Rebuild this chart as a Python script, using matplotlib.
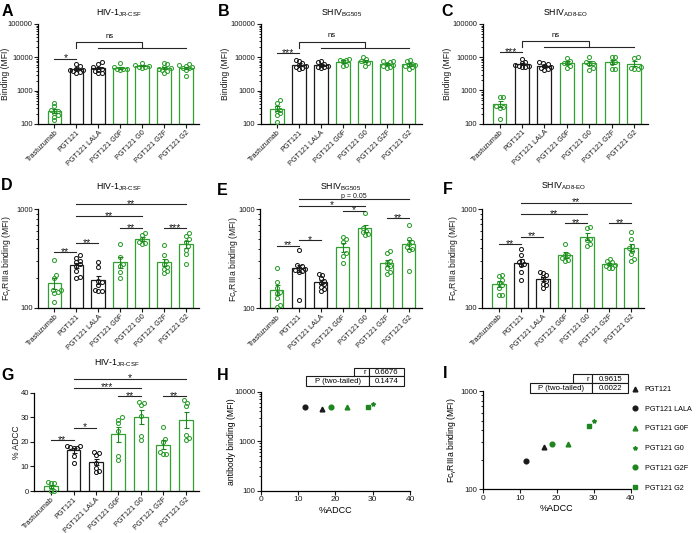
import numpy as np
import matplotlib
matplotlib.use('Agg')
import matplotlib.pyplot as plt
from matplotlib.patches import Rectangle
from matplotlib.ticker import LogLocator, NullFormatter

plt.rcParams['font.family'] = ['Liberation Sans', 'DejaVu Sans']
plt.rcParams['mathtext.fontset'] = 'custom'
plt.rcParams['mathtext.rm'] = 'Liberation Sans'
plt.rcParams['mathtext.it'] = 'Liberation Sans'
plt.rcParams['mathtext.default'] = 'regular'

W, H = 696, 533
GREEN = '#31a031'
GREEN_DARK = '#1e861e'
BLACK = '#1a1a1a'
SIG = '#262626'

groups = ['Trastuzumab', 'PGT121', 'PGT121 LALA', 'PGT121 G0F',
          'PGT121 G0', 'PGT121 G2F', 'PGT121 G2']
green_group = [True, False, False, True, True, True, True]

# ---- binding (MFI), HIV-1 JR-CSF / SHIV BG505 / SHIV AD8-EO
bind_jrcsf = [
    [440, 350, 265, 250, 220, 185, 165, 130],
    [6500, 5400, 4600, 4300, 4100, 3900, 3700, 3500],
    [7200, 6400, 5000, 4600, 4300, 4000, 3500, 3400],
    [6600, 5000, 4600, 4500, 4400, 4300],
    [6700, 6000, 5500, 5300, 5200, 4900],
    [6800, 6200, 5300, 4800, 4500, 4200, 4000, 3400],
    [6200, 5900, 5500, 5100, 4900, 4700, 4100, 2800],
]
bind_bg505 = [
    [527, 438, 332, 264, 246, 209, 186, 117],
    [8200, 7600, 6800, 6000, 5500, 5200, 4900, 4400],
    [7800, 7200, 6500, 6000, 5600, 5300, 5000, 4700],
    [8800, 8500, 8300, 7800, 6000, 5400],
    [10000, 9000, 8000, 7200, 6600, 5600],
    [8000, 7600, 7200, 6500, 6000, 5600, 5300, 4800],
    [8200, 7500, 6500, 6000, 5700, 5400, 5000, 4600],
]
bind_ad8 = [
    [610, 610, 330, 320, 300, 135],
    [9000, 7200, 6500, 6000, 5600, 5400, 5200, 5000],
    [7200, 6900, 6300, 5500, 5100, 4700, 4400, 4200],
    [9300, 7700, 6900, 6800, 5500, 4700],
    [10200, 7400, 6900, 6200, 4700, 4200],
    [10000, 9800, 7000, 6500, 4500, 4400],
    [10000, 9500, 5000, 4700, 4500, 4400],
]

# ---- FcgRIIIa binding (MFI)
fc_jrcsf = [
    [305, 215, 200, 150, 150, 145, 140, 115],
    [340, 320, 300, 290, 275, 265, 235, 205, 200],
    [290, 261, 187, 181, 170, 151, 148, 148],
    [440, 330, 275, 265, 230, 200],
    [570, 548, 500, 470, 455, 445],
    [430, 345, 300, 280, 260, 245, 235, 225],
    [570, 540, 500, 470, 420, 390, 350, 280],
]
fc_bg505 = [
    [257, 183, 159, 147, 142, 126, 108, 104],
    [390, 275, 270, 255, 250, 245, 240, 235, 120],
    [220, 215, 200, 190, 180, 175, 165, 155, 148],
    [520, 500, 470, 360, 340, 290],
    [910, 640, 610, 590, 560, 550],
    [375, 360, 300, 285, 265, 255, 235, 220],
    [700, 500, 470, 450, 420, 400, 390, 240],
]
fc_ad8 = [
    [215, 210, 190, 180, 170, 160, 135, 133],
    [395, 340, 300, 290, 280, 270, 230, 190],
    [230, 225, 215, 205, 185, 175, 170, 160],
    [440, 345, 340, 320, 305, 300],
    [660, 640, 500, 480, 445, 420],
    [310, 300, 290, 280, 270, 265, 255, 250],
    [580, 495, 420, 400, 375, 350, 315, 300],
]

# ---- % ADCC, HIV-1 JR-CSF
adcc_jrcsf = [
    [3.5, 3.4, 3.3, 1.5, 0.0, 0.0],
    [18.5, 18.3, 18.0, 17.6, 17.4, 14.2, 11.5],
    [15.8, 15.6, 14.5, 11.2, 9.5, 8.2, 7.8],
    [30.0, 29.0, 27.5, 24.5, 14.2, 12.8],
    [36.3, 36.0, 35.0, 30.5, 22.5, 20.9],
    [26.0, 21.0, 19.8, 16.0, 15.0, 15.0],
    [37.0, 36.0, 34.7, 22.8, 21.7, 20.6],
]

# ---- significance (group i, group j, level, label)
sig_a = [(0, 1, 9000, '*')]
sig_b = [(0, 1, 13200, '***')]
sig_c = [(0, 1, 14100, '***')]
sig_d = [(0, 1, 365, '**'), (1, 2, 451, '**'), (3, 4, 641, '**'),
         (5, 6, 641, '***'), (1, 4, 855, '**'), (1, 6, 1133, '**')]
sig_e = [(0, 1, 427, '**'), (1, 2, 489, '*'), (3, 4, 970, '*'),
         (5, 6, 811, '**'), (1, 4, 1089, '*'), (1, 6, 1270, 'p = 0.05')]
sig_f = [(0, 1, 439, '**'), (1, 2, 525, '**'), (3, 4, 716, '**'),
         (5, 6, 716, '**'), (1, 4, 889, '**'), (1, 6, 1159, '**')]
sig_g = [(0, 1, 20.7, '**'), (1, 2, 25.8, '*'), (3, 4, 38.6, '**'),
         (5, 6, 38.6, '**'), (1, 4, 42.0, '***'), (1, 6, 45.6, '*')]

# ---- correlation panels
corr_names = ['PGT121', 'PGT121 LALA', 'PGT121 G0F', 'PGT121 G0', 'PGT121 G2F', 'PGT121 G2']
corr_idx = [1, 2, 3, 4, 5, 6]
corr_markers = ['^', 'o', '^', '*', 'o', 's']
corr_colors = [BLACK, BLACK, GREEN_DARK, GREEN_DARK, GREEN_DARK, GREEN_DARK]
stats_h = ('0.6676', '0.1474')
stats_i = ('0.9615', '0.0022')

fig = plt.figure(figsize=(W / 100, H / 100), dpi=100)


def add_axes_px(box):
    l, t, r, b = box
    return fig.add_axes([l / W, 1 - b / H, (r - l) / W, (b - t) / H])


def fig_text(x, y, s, **kw):
    fig.text(x / W, 1 - y / H, s, **kw)


def style_axes(ax, labelsize=5.5):
    for s in ('top', 'right'):
        ax.spines[s].set_visible(False)
    for s in ('left', 'bottom'):
        ax.spines[s].set_linewidth(0.9)
    ax.tick_params(which='major', direction='out', length=2.6, width=0.8,
                   labelsize=labelsize, pad=1.2, colors=BLACK)
    ax.tick_params(which='minor', direction='out', length=1.5, width=0.6)


def log_ticks(ax, ticks):
    ax.set_yticks(ticks)
    ax.set_yticklabels([str(t) for t in ticks])
    ax.yaxis.set_minor_locator(LogLocator(base=10, subs=np.arange(2, 10)))
    ax.yaxis.set_minor_formatter(NullFormatter())


def place_ylabel(ax, box, center_px):
    # label coords give the right edge of the rotated label, so shift by half its height
    ax.yaxis.set_label_coords((center_px + 4.5 - box[0]) / (box[2] - box[0]), 0.5)


def swarm_offsets(ax, xc, vals, diam=3.3):
    # simple beeswarm in pixel space so the open circles sit side by side
    pts = ax.transData.transform(np.column_stack([np.full(len(vals), float(xc)), vals]))
    ys = pts[:, 1]
    ppu = ax.transData.transform((1, 1))[0] - ax.transData.transform((0, 1))[0]
    step = diam * 0.5
    placed, offs = [], np.zeros(len(vals))
    for i in np.argsort(ys):
        k = 0
        while True:
            cands = [0.0] if k == 0 else [k * step, -k * step]
            hit = None
            for c in cands:
                if all((c - ox) ** 2 + (ys[i] - oy) ** 2 >= diam ** 2 for ox, oy in placed):
                    hit = c
                    break
            if hit is not None:
                break
            k += 1
        placed.append((hit, ys[i]))
        offs[i] = hit / ppu
    return offs


def bar_panel(box, data, ylim, log, yticks, ylabel, ylabel_x, sigs, title, title_y):
    ax = add_axes_px(box)
    ax.set_xlim(-0.75, 6.6)
    if log:
        ax.set_yscale('log')
    ax.set_ylim(*ylim)
    style_axes(ax)
    for i, vals in enumerate(data):
        col = GREEN if green_group[i] else BLACK
        v = np.array(vals, dtype=float)
        m = v.mean()
        se = v.std(ddof=1) / np.sqrt(len(v))
        ax.bar(i, m - ylim[0], bottom=ylim[0], width=0.62, facecolor='white',
               edgecolor=col, linewidth=0.9, zorder=2)
        offs = swarm_offsets(ax, i, v)
        ax.plot(i + offs, v, 'o', ms=2.9, mfc='none', mec=col, mew=0.75,
                zorder=3, clip_on=False)
        ax.errorbar(i, m, yerr=se, fmt='none', ecolor=GREEN_DARK if green_group[i] else BLACK,
                    elinewidth=0.8, capsize=1.8, capthick=0.8, zorder=4)
    ax.set_xticks(range(len(groups)))
    ax.set_xticklabels(groups, rotation=45, ha='right', rotation_mode='anchor', fontsize=5.2)
    if log:
        log_ticks(ax, yticks)
    else:
        ax.set_yticks(yticks)
    ax.set_ylabel(ylabel, fontsize=6.2, color=BLACK)
    place_ylabel(ax, box, ylabel_x)
    for i, j, y, txt in sigs:
        ax.plot([i, j], [y, y], color=SIG, lw=0.8, clip_on=False, zorder=5)
        stars = set(txt) == {'*'}
        ax.annotate(txt, xy=((i + j) / 2, y), xytext=(0, -1.9 if stars else 0.8),
                    textcoords='offset points', ha='center', va='baseline',
                    fontsize=7.5 if stars else 5, color=BLACK, annotation_clip=False)
    fig_text((box[0] + box[2]) / 2, title_y, title, ha='center', va='center', fontsize=6.3)
    return ax


def ns_bracket(ax, top, low):
    ax.plot([1, 1, 4, 4], [low, top, top, low], color=SIG, lw=0.8, clip_on=False)
    ax.plot([2, 6], [low, low], color=SIG, lw=0.8, clip_on=False)
    ax.annotate('ns', xy=(2.5, top), xytext=(0, 3.2), textcoords='offset points',
                ha='center', va='baseline', fontsize=5.5, annotation_clip=False)


def corr_panel(box, ylim, yticks, ylabel, ylabel_x, ymeans, stats, table_px):
    ax = add_axes_px(box)
    ax.set_yscale('log')
    ax.set_xlim(0, 40)
    ax.set_ylim(*ylim)
    style_axes(ax, labelsize=5.6)
    ax.tick_params(axis='x', labelsize=6)
    ax.set_xticks([0, 10, 20, 30, 40])
    log_ticks(ax, yticks)
    xs = [np.mean(adcc_jrcsf[k]) for k in corr_idx]
    ys = [np.mean(ymeans[k]) for k in corr_idx]
    handles = []
    for x, y, mk, c, name in zip(xs, ys, corr_markers, corr_colors, corr_names):
        ms = 3.0 if mk == '*' else 3.4
        h, = ax.plot(x, y, mk, ms=ms, color=c, mec=c, label=name, clip_on=False)
        handles.append(h)
    ax.set_xlabel('%ADCC', fontsize=6.5, labelpad=2)
    ax.set_ylabel(ylabel, fontsize=6.2)
    place_ylabel(ax, box, ylabel_x)
    # stats table
    x0, x1, x2, x3, y0, y1, y2 = table_px
    cells = [(x1, y0, x2, y1, 'r'), (x2, y0, x3, y1, stats[0]),
             (x0, y1, x2, y2, 'P (two-tailed)'), (x2, y1, x3, y2, stats[1])]
    for l, t, r, b, s in cells:
        fig.add_artist(Rectangle((l / W, 1 - b / H), (r - l) / W, (b - t) / H,
                                 transform=fig.transFigure, facecolor='white',
                                 edgecolor=BLACK, lw=0.8))
        if s == 'r':
            fig_text(r - 3, (t + b) / 2 + 0.5, s, ha='right', va='center', fontsize=5.6)
        else:
            fig_text((l + r) / 2, (t + b) / 2 + 0.5, s, ha='center', va='center', fontsize=5.6)
    return ax, handles


fc_label = 'Fc$_{γ}$RIIIa binding (MFI)'

ax_a = bar_panel((38, 24, 199, 124), bind_jrcsf, (100, 100000), True,
                 [100, 1000, 10000, 100000], 'Binding (MFI)', 5.5, sig_a,
                 'HIV-1$_{JR‐CSF}$', 13)
ns_bracket(ax_a, 28300, 18700)
ax_b = bar_panel((260.7, 24, 421.7, 124), bind_bg505, (100, 100000), True,
                 [100, 1000, 10000, 100000], 'Binding (MFI)', 225, sig_b,
                 'SHIV$_{BG505}$', 13)
ns_bracket(ax_b, 29500, 18700)
ax_c = bar_panel((482.7, 24, 647.7, 123.5), bind_ad8, (100, 100000), True,
                 [100, 1000, 10000, 100000], 'Binding (MFI)', 448, sig_c,
                 'SHIV$_{AD8‐EO}$', 13)
ns_bracket(ax_c, 30500, 19700)

bar_panel((38, 209.3, 199, 307.7), fc_jrcsf, (100, 1000), True, [100, 1000],
          fc_label, 10, sig_d, 'HIV-1$_{JR‐CSF}$', 187)
bar_panel((260, 209.3, 421.7, 308.3), fc_bg505, (100, 1000), True, [100, 1000],
          fc_label, 236.5, sig_e, 'SHIV$_{BG505}$', 187)
bar_panel((482.3, 209, 644, 307.7), fc_ad8, (100, 1000), True, [100, 1000],
          fc_label, 456, sig_f, 'SHIV$_{AD8‐EO}$', 186)
bar_panel((34.3, 392.7, 199, 491), adcc_jrcsf, (0, 40), False, [0, 10, 20, 30, 40],
          '% ADCC', 16.5, sig_g, 'HIV-1$_{JR‐CSF}$', 363)

corr_panel((260.7, 391.7, 410, 490.7), (100, 10000), [100, 1000, 10000],
           'antibody binding (MFI)', 231, bind_jrcsf, stats_h,
           (306, 354, 369.3, 404, 367.7, 376.3, 386))
ax_i, handles = corr_panel((482.7, 391, 630.7, 489.3), (100, 1000), [100, 1000],
                           fc_label, 455, fc_jrcsf, stats_i,
                           (530, 573.3, 592.3, 628.3, 374.3, 383.3, 393.3))
ax_i.legend(handles=handles, loc='upper left', bbox_to_anchor=(631 / W, 1 - 386 / H),
            bbox_transform=fig.transFigure, frameon=False, fontsize=5.2,
            handlelength=1.0, handletextpad=0.9, labelspacing=1.75, borderpad=0,
            borderaxespad=0)

for letter, x, y in [('A', 2, 11), ('B', 218, 11), ('C', 441, 11),
                     ('D', 1, 185), ('E', 217, 190), ('F', 443, 189),
                     ('G', 1, 375), ('H', 217, 375), ('I', 443, 373)]:
    fig_text(x, y, letter, ha='left', va='center', fontsize=11.5, fontweight='bold')

fig.savefig('out.png', dpi=100)
